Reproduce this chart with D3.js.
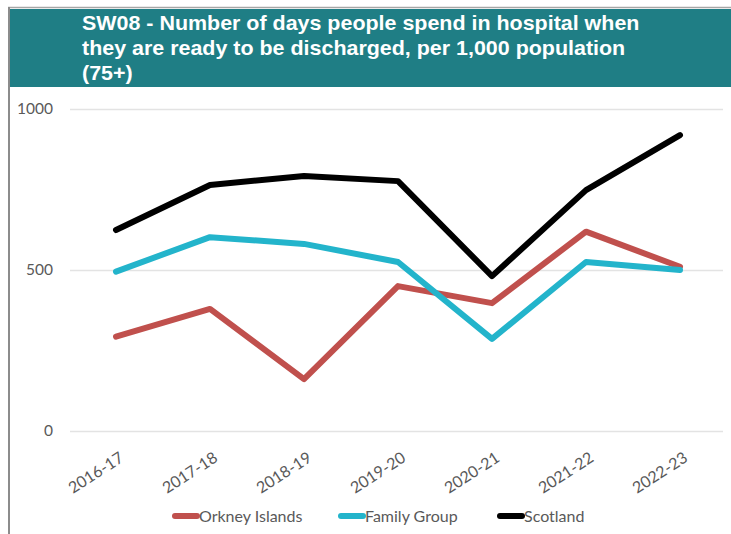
<!DOCTYPE html>
<html>
<head>
<meta charset="utf-8">
<script src="https://cdn.jsdelivr.net/npm/d3@7"></script>
<style>
  body { margin: 0; background: #fff; }
  svg { display: block; }
</style>
</head>
<body>
<div id="container"></div>
<script>
const years = ["2016-17", "2017-18", "2018-19", "2019-20", "2020-21", "2021-22", "2022-23"];
const orkney = [293, 379, 161, 450, 397, 619, 510];
const familyGroup = [495, 602, 581, 525, 286, 525, 500];
const scotland = [624, 764, 792, 776, 481, 748, 919];
const yTicks = [0, 500, 1000];
const seriesNames = ["Orkney Islands", "Family Group", "Scotland"];
const seriesColors = ["#c0504d", "#23b4cb", "#000000"];
const titleLines = [
  "SW08 - Number of days people spend in hospital when",
  "they are ready to be discharged, per 1,000 population",
  "(75+)"
];

const width = 731;
const height = 534;

const svg = d3.select("#container")
  .append("svg")
  .attr("width", width)
  .attr("height", height);

// frame + header
svg.append("line")
  .attr("x1", 8).attr("x2", width).attr("y1", 7.5).attr("y2", 7.5)
  .attr("stroke", "#a6a6a6").attr("stroke-width", 1.5);
svg.append("line")
  .attr("x1", 9).attr("x2", 9).attr("y1", 7).attr("y2", height)
  .attr("stroke", "#8c8c8c").attr("stroke-width", 2);
svg.append("rect")
  .attr("x", 10).attr("y", 9).attr("width", width - 10).attr("height", 78)
  .attr("fill", "#1f7e85");

// title is a bit stretched horizontally in the original
svg.append("g")
  .attr("transform", "translate(82, 0) scale(1.1, 1)")
  .selectAll("text")
  .data(titleLines)
  .join("text")
  .attr("x", 0)
  .attr("y", (d, i) => 30 + i * 25)
  .attr("fill", "#fff")
  .style("font-family", "'Liberation Sans', Arial, sans-serif")
  .style("font-weight", "bold")
  .style("font-size", "19.5px")
  .text(d => d);

// scales
const scaleX = d3.scalePoint()
  .domain(years)
  .range([116, 680]);
const scaleY = d3.scaleLinear()
  .domain([0, 1000])
  .range([431, 109]);

const font = "Lato, 'Open Sans', sans-serif";

// y axis (gridlines + labels)
svg.append("g")
  .attr("transform", "translate(70, 0)")
  .call(d3.axisLeft(scaleY).tickValues(yTicks).tickSize(0).tickPadding(17).tickFormat(d3.format("d")))
  .call(g => g.select(".domain").remove())
  .call(g => g.selectAll(".tick line")
    .attr("x2", 653)
    .attr("stroke", "#e3e3e3")
    .attr("stroke-width", 1.5))
  .call(g => g.selectAll(".tick text")
    .attr("fill", "#595959")
    .style("font-family", font)
    .style("font-size", "15.5px"));

// x axis labels
svg.append("g")
  .attr("transform", "translate(0, 431)")
  .call(d3.axisBottom(scaleX).tickSize(0).tickPadding(0))
  .call(g => g.select(".domain").remove())
  .call(g => g.selectAll(".tick text")
    .attr("fill", "#595959")
    .style("font-family", font)
    .style("font-size", "16px")
    .attr("text-anchor", "end")
    .attr("y", 0)
    .attr("dy", "0.71em")
    .attr("transform", "translate(2, 20) rotate(-33)"));

// lines
const allSeries = [orkney, familyGroup, scotland];
const line = d3.line()
  .x((d, i) => scaleX(years[i]))
  .y(d => scaleY(d));

svg.append("g")
  .selectAll("path")
  .data(allSeries)
  .join("path")
  .attr("d", d => line(d))
  .attr("fill", "none")
  .attr("stroke", (d, i) => seriesColors[i])
  .attr("stroke-width", 6)
  .attr("stroke-linejoin", "round")
  .attr("stroke-linecap", "round");

// legend
const legendX = [172, 338, 497];
const groupLegend = svg.append("g")
  .attr("transform", "translate(0, 516)");
const items = groupLegend.selectAll("g")
  .data(seriesNames)
  .join("g")
  .attr("transform", (d, i) => `translate(${legendX[i]}, 0)`);
items.append("line")
  .attr("x1", 3).attr("x2", 25)
  .attr("stroke", (d, i) => seriesColors[i])
  .attr("stroke-width", 6)
  .attr("stroke-linecap", "round");
items.append("text")
  .attr("x", 27)
  .attr("dy", "0.35em")
  .attr("fill", "#595959")
  .style("font-family", font)
  .style("font-size", "16px")
  .text(d => d);
</script>
</body>
</html>
